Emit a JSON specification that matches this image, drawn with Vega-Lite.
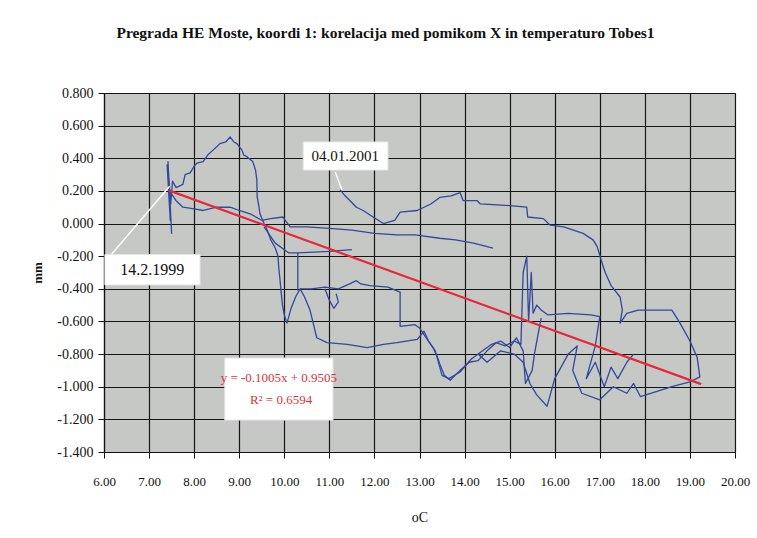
{
  "$schema": "https://vega.github.io/schema/vega-lite/v6.json",
  "autosize": "none",
  "width": 631,
  "height": 359,
  "padding": {"left": 104, "top": 93, "right": 22, "bottom": 86},
  "background": "#ffffff",
  "title": {
    "text": "Pregrada HE Moste, koordi 1: korelacija med pomikom X in temperaturo Tobes1",
    "font": "Liberation Serif",
    "fontSize": 15.5,
    "fontWeight": "bold",
    "color": "#111111",
    "anchor": "middle",
    "dx": -34,
    "offset": 45
  },
  "config": {
    "view": {"fill": "#c6c8c6", "stroke": "#222222", "strokeWidth": 1},
    "axis": {
      "labelFont": "Liberation Serif",
      "titleFont": "Liberation Serif",
      "labelColor": "#111111",
      "titleColor": "#111111",
      "domainColor": "#111111",
      "tickColor": "#111111",
      "gridColor": "#151515",
      "gridWidth": 1.2,
      "gridOpacity": 1,
      "domainWidth": 1.2,
      "labelOverlap": false,
      "labelFlush": false
    }
  },
  "datasets": {
    "path": [
      {"s": "A", "i": 1, "x": 7.45, "y": 0.20},
      {"s": "A", "i": 2, "x": 7.40, "y": 0.36},
      {"s": "A", "i": 3, "x": 7.47, "y": 0.02},
      {"s": "A", "i": 4, "x": 7.42, "y": 0.38},
      {"s": "A", "i": 5, "x": 7.50, "y": -0.06},
      {"s": "A", "i": 6, "x": 7.44, "y": 0.28},
      {"s": "A", "i": 7, "x": 7.48, "y": 0.12},
      {"s": "A", "i": 8, "x": 7.52, "y": 0.26},
      {"s": "A", "i": 9, "x": 7.60, "y": 0.22},
      {"s": "A", "i": 10, "x": 7.75, "y": 0.24},
      {"s": "A", "i": 11, "x": 7.80, "y": 0.30},
      {"s": "A", "i": 12, "x": 7.91, "y": 0.31},
      {"s": "A", "i": 13, "x": 8.00, "y": 0.35},
      {"s": "A", "i": 14, "x": 8.06, "y": 0.37},
      {"s": "A", "i": 15, "x": 8.20, "y": 0.38},
      {"s": "A", "i": 16, "x": 8.30, "y": 0.42},
      {"s": "A", "i": 17, "x": 8.42, "y": 0.45},
      {"s": "A", "i": 18, "x": 8.50, "y": 0.47},
      {"s": "A", "i": 19, "x": 8.57, "y": 0.49},
      {"s": "A", "i": 20, "x": 8.70, "y": 0.50},
      {"s": "A", "i": 21, "x": 8.80, "y": 0.53},
      {"s": "A", "i": 22, "x": 8.88, "y": 0.50},
      {"s": "A", "i": 23, "x": 8.95, "y": 0.49},
      {"s": "A", "i": 24, "x": 9.06, "y": 0.45},
      {"s": "A", "i": 25, "x": 9.10, "y": 0.42},
      {"s": "A", "i": 26, "x": 9.17, "y": 0.41},
      {"s": "A", "i": 27, "x": 9.30, "y": 0.38},
      {"s": "A", "i": 28, "x": 9.36, "y": 0.33},
      {"s": "A", "i": 29, "x": 9.39, "y": 0.27},
      {"s": "A", "i": 30, "x": 9.40, "y": 0.16},
      {"s": "A", "i": 31, "x": 9.44, "y": 0.10},
      {"s": "A", "i": 32, "x": 9.46, "y": 0.06},
      {"s": "A", "i": 33, "x": 9.55, "y": 0.00},
      {"s": "A", "i": 34, "x": 9.62, "y": -0.04},
      {"s": "A", "i": 35, "x": 9.70, "y": -0.10},
      {"s": "A", "i": 36, "x": 9.80, "y": -0.15},
      {"s": "A", "i": 37, "x": 9.86, "y": -0.20},
      {"s": "A", "i": 38, "x": 9.88, "y": -0.28},
      {"s": "A", "i": 39, "x": 9.90, "y": -0.33},
      {"s": "A", "i": 40, "x": 9.93, "y": -0.42},
      {"s": "A", "i": 41, "x": 9.96, "y": -0.50},
      {"s": "A", "i": 42, "x": 10.00, "y": -0.56},
      {"s": "A", "i": 43, "x": 10.06, "y": -0.61},
      {"s": "A", "i": 44, "x": 10.15, "y": -0.52},
      {"s": "A", "i": 45, "x": 10.25, "y": -0.45},
      {"s": "A", "i": 46, "x": 10.35, "y": -0.40},
      {"s": "A", "i": 47, "x": 10.60, "y": -0.40},
      {"s": "A", "i": 48, "x": 10.90, "y": -0.39},
      {"s": "A", "i": 49, "x": 11.20, "y": -0.40},
      {"s": "A", "i": 50, "x": 11.45, "y": -0.37},
      {"s": "A", "i": 51, "x": 11.60, "y": -0.35},
      {"s": "A", "i": 52, "x": 11.70, "y": -0.37},
      {"s": "A", "i": 53, "x": 11.90, "y": -0.38},
      {"s": "A", "i": 54, "x": 12.30, "y": -0.39},
      {"s": "A", "i": 55, "x": 12.57, "y": -0.42},
      {"s": "A", "i": 56, "x": 12.57, "y": -0.63},
      {"s": "A", "i": 57, "x": 12.90, "y": -0.62},
      {"s": "A", "i": 58, "x": 13.00, "y": -0.64},
      {"s": "A", "i": 59, "x": 13.10, "y": -0.68},
      {"s": "A", "i": 60, "x": 13.15, "y": -0.70},
      {"s": "A", "i": 61, "x": 13.30, "y": -0.76},
      {"s": "A", "i": 62, "x": 13.40, "y": -0.82},
      {"s": "A", "i": 63, "x": 13.45, "y": -0.86},
      {"s": "A", "i": 64, "x": 13.55, "y": -0.93},
      {"s": "A", "i": 65, "x": 13.68, "y": -0.96},
      {"s": "A", "i": 66, "x": 13.90, "y": -0.90},
      {"s": "A", "i": 67, "x": 14.10, "y": -0.85},
      {"s": "A", "i": 68, "x": 14.30, "y": -0.84},
      {"s": "A", "i": 69, "x": 14.50, "y": -0.78},
      {"s": "A", "i": 70, "x": 14.70, "y": -0.73},
      {"s": "A", "i": 71, "x": 14.90, "y": -0.75},
      {"s": "A", "i": 72, "x": 15.10, "y": -0.72},
      {"s": "A", "i": 73, "x": 15.25, "y": -0.74},
      {"s": "A", "i": 74, "x": 15.30, "y": -0.30},
      {"s": "A", "i": 75, "x": 15.38, "y": -0.20},
      {"s": "A", "i": 76, "x": 15.42, "y": -0.60},
      {"s": "A", "i": 77, "x": 15.48, "y": -0.30},
      {"s": "A", "i": 78, "x": 15.52, "y": -0.55},
      {"s": "A", "i": 79, "x": 15.60, "y": -0.50},
      {"s": "A", "i": 80, "x": 15.70, "y": -0.53},
      {"s": "A", "i": 81, "x": 15.85, "y": -0.56},
      {"s": "A", "i": 82, "x": 16.30, "y": -0.55},
      {"s": "A", "i": 83, "x": 16.80, "y": -0.56},
      {"s": "A", "i": 84, "x": 17.00, "y": -0.57},
      {"s": "A", "i": 85, "x": 16.90, "y": -0.75},
      {"s": "A", "i": 86, "x": 16.70, "y": -0.95},
      {"s": "A", "i": 87, "x": 16.90, "y": -0.85},
      {"s": "A", "i": 88, "x": 17.10, "y": -1.00},
      {"s": "A", "i": 89, "x": 17.25, "y": -0.88},
      {"s": "A", "i": 90, "x": 17.40, "y": -0.95},
      {"s": "A", "i": 91, "x": 17.60, "y": -0.85},
      {"s": "A", "i": 92, "x": 17.75, "y": -0.80},
      {"s": "B", "i": 1, "x": 7.45, "y": 0.20},
      {"s": "B", "i": 2, "x": 7.60, "y": 0.14},
      {"s": "B", "i": 3, "x": 7.75, "y": 0.10},
      {"s": "B", "i": 4, "x": 8.00, "y": 0.09},
      {"s": "B", "i": 5, "x": 8.20, "y": 0.08},
      {"s": "B", "i": 6, "x": 8.50, "y": 0.10},
      {"s": "B", "i": 7, "x": 8.80, "y": 0.10},
      {"s": "B", "i": 8, "x": 9.00, "y": 0.08},
      {"s": "B", "i": 9, "x": 9.24, "y": 0.06},
      {"s": "B", "i": 10, "x": 9.50, "y": 0.02},
      {"s": "B", "i": 11, "x": 9.70, "y": 0.03},
      {"s": "B", "i": 12, "x": 9.97, "y": 0.04},
      {"s": "B", "i": 13, "x": 10.13, "y": -0.02},
      {"s": "B", "i": 14, "x": 10.50, "y": -0.02},
      {"s": "B", "i": 15, "x": 11.00, "y": -0.03},
      {"s": "B", "i": 16, "x": 11.50, "y": -0.04},
      {"s": "B", "i": 17, "x": 12.00, "y": -0.06},
      {"s": "B", "i": 18, "x": 12.50, "y": -0.07},
      {"s": "B", "i": 19, "x": 12.90, "y": -0.07},
      {"s": "B", "i": 20, "x": 13.45, "y": -0.09},
      {"s": "B", "i": 21, "x": 13.80, "y": -0.10},
      {"s": "B", "i": 22, "x": 14.20, "y": -0.12},
      {"s": "B", "i": 23, "x": 14.63, "y": -0.15},
      {"s": "C", "i": 1, "x": 11.24, "y": 0.206},
      {"s": "C", "i": 2, "x": 11.35, "y": 0.17},
      {"s": "C", "i": 3, "x": 11.46, "y": 0.14},
      {"s": "C", "i": 4, "x": 11.60, "y": 0.10},
      {"s": "C", "i": 5, "x": 11.75, "y": 0.08},
      {"s": "C", "i": 6, "x": 11.97, "y": 0.04},
      {"s": "C", "i": 7, "x": 12.20, "y": 0.00},
      {"s": "C", "i": 8, "x": 12.45, "y": 0.02},
      {"s": "C", "i": 9, "x": 12.57, "y": 0.07},
      {"s": "C", "i": 10, "x": 12.95, "y": 0.08},
      {"s": "C", "i": 11, "x": 13.25, "y": 0.12},
      {"s": "C", "i": 12, "x": 13.45, "y": 0.16},
      {"s": "C", "i": 13, "x": 13.70, "y": 0.17},
      {"s": "C", "i": 14, "x": 13.90, "y": 0.19},
      {"s": "C", "i": 15, "x": 13.97, "y": 0.14},
      {"s": "C", "i": 16, "x": 14.28, "y": 0.14},
      {"s": "C", "i": 17, "x": 14.35, "y": 0.12},
      {"s": "C", "i": 18, "x": 15.00, "y": 0.11},
      {"s": "C", "i": 19, "x": 15.38, "y": 0.10},
      {"s": "C", "i": 20, "x": 15.40, "y": 0.04},
      {"s": "C", "i": 21, "x": 15.75, "y": 0.03},
      {"s": "C", "i": 22, "x": 15.90, "y": -0.01},
      {"s": "C", "i": 23, "x": 16.20, "y": -0.02},
      {"s": "C", "i": 24, "x": 16.63, "y": -0.06},
      {"s": "C", "i": 25, "x": 16.85, "y": -0.10},
      {"s": "C", "i": 26, "x": 16.94, "y": -0.14},
      {"s": "C", "i": 27, "x": 17.05, "y": -0.24},
      {"s": "C", "i": 28, "x": 17.12, "y": -0.30},
      {"s": "C", "i": 29, "x": 17.25, "y": -0.38},
      {"s": "C", "i": 30, "x": 17.45, "y": -0.45},
      {"s": "C", "i": 31, "x": 17.50, "y": -0.53},
      {"s": "C", "i": 32, "x": 17.45, "y": -0.61},
      {"s": "C", "i": 33, "x": 17.60, "y": -0.55},
      {"s": "C", "i": 34, "x": 17.85, "y": -0.53},
      {"s": "C", "i": 35, "x": 18.60, "y": -0.53},
      {"s": "C", "i": 36, "x": 18.78, "y": -0.61},
      {"s": "C", "i": 37, "x": 19.00, "y": -0.72},
      {"s": "C", "i": 38, "x": 19.16, "y": -0.82},
      {"s": "C", "i": 39, "x": 19.22, "y": -0.94},
      {"s": "C", "i": 40, "x": 19.00, "y": -0.97},
      {"s": "C", "i": 41, "x": 18.60, "y": -1.00},
      {"s": "C", "i": 42, "x": 17.90, "y": -1.06},
      {"s": "C", "i": 43, "x": 17.75, "y": -0.98},
      {"s": "C", "i": 44, "x": 17.60, "y": -1.04},
      {"s": "C", "i": 45, "x": 17.30, "y": -1.00},
      {"s": "C", "i": 46, "x": 17.00, "y": -1.08},
      {"s": "C", "i": 47, "x": 16.60, "y": -1.04},
      {"s": "C", "i": 48, "x": 16.40, "y": -0.90},
      {"s": "C", "i": 49, "x": 16.50, "y": -0.75},
      {"s": "C", "i": 50, "x": 16.30, "y": -0.80},
      {"s": "C", "i": 51, "x": 16.00, "y": -0.95},
      {"s": "C", "i": 52, "x": 15.83, "y": -1.12},
      {"s": "C", "i": 53, "x": 15.60, "y": -1.05},
      {"s": "C", "i": 54, "x": 15.45, "y": -0.98},
      {"s": "C", "i": 55, "x": 15.30, "y": -0.85},
      {"s": "C", "i": 56, "x": 15.10, "y": -0.80},
      {"s": "C", "i": 57, "x": 14.80, "y": -0.78},
      {"s": "C", "i": 58, "x": 14.50, "y": -0.85},
      {"s": "C", "i": 59, "x": 14.30, "y": -0.80},
      {"s": "E", "i": 1, "x": 10.35, "y": -0.40},
      {"s": "E", "i": 2, "x": 10.45, "y": -0.45},
      {"s": "E", "i": 3, "x": 10.57, "y": -0.53},
      {"s": "E", "i": 4, "x": 10.65, "y": -0.62},
      {"s": "E", "i": 5, "x": 10.72, "y": -0.70},
      {"s": "E", "i": 6, "x": 10.95, "y": -0.73},
      {"s": "E", "i": 7, "x": 11.40, "y": -0.74},
      {"s": "E", "i": 8, "x": 11.84, "y": -0.76},
      {"s": "E", "i": 9, "x": 12.20, "y": -0.74},
      {"s": "E", "i": 10, "x": 12.50, "y": -0.73},
      {"s": "E", "i": 11, "x": 12.95, "y": -0.71},
      {"s": "E", "i": 12, "x": 13.10, "y": -0.66},
      {"s": "E", "i": 13, "x": 13.20, "y": -0.72},
      {"s": "E", "i": 14, "x": 13.35, "y": -0.78},
      {"s": "E", "i": 15, "x": 13.50, "y": -0.93},
      {"s": "E", "i": 16, "x": 13.65, "y": -0.95},
      {"s": "E", "i": 17, "x": 13.90, "y": -0.91},
      {"s": "E", "i": 18, "x": 14.15, "y": -0.83},
      {"s": "E", "i": 19, "x": 14.40, "y": -0.78},
      {"s": "E", "i": 20, "x": 14.60, "y": -0.74},
      {"s": "E", "i": 21, "x": 14.80, "y": -0.72},
      {"s": "E", "i": 22, "x": 15.00, "y": -0.76},
      {"s": "E", "i": 23, "x": 15.15, "y": -0.70},
      {"s": "E", "i": 24, "x": 15.30, "y": -0.78},
      {"s": "E", "i": 25, "x": 15.35, "y": -0.98},
      {"s": "E", "i": 26, "x": 15.50, "y": -0.90},
      {"s": "E", "i": 27, "x": 15.55, "y": -0.80},
      {"s": "E", "i": 28, "x": 15.65, "y": -0.65},
      {"s": "E", "i": 29, "x": 15.70, "y": -0.58},
      {"s": "G", "i": 1, "x": 9.55, "y": -0.02},
      {"s": "G", "i": 2, "x": 9.80, "y": -0.12},
      {"s": "G", "i": 3, "x": 10.10, "y": -0.18},
      {"s": "G", "i": 4, "x": 10.30, "y": -0.18},
      {"s": "G", "i": 5, "x": 10.30, "y": -0.41},
      {"s": "H", "i": 1, "x": 10.30, "y": -0.18},
      {"s": "H", "i": 2, "x": 11.00, "y": -0.17},
      {"s": "H", "i": 3, "x": 11.50, "y": -0.16},
      {"s": "K", "i": 1, "x": 10.90, "y": -0.40},
      {"s": "K", "i": 2, "x": 11.00, "y": -0.47},
      {"s": "K", "i": 3, "x": 11.10, "y": -0.52},
      {"s": "K", "i": 4, "x": 11.20, "y": -0.48},
      {"s": "K", "i": 5, "x": 11.15, "y": -0.43}
    ],
    "trend": [
      {"x": 7.45, "y": 0.2018},
      {"x": 19.25, "y": -0.9841}
    ],
    "arrows": [
      {"x": 6.13, "y": -0.20, "x2": 7.46, "y2": 0.23},
      {"x": 11.13, "y": 0.316, "x2": 11.28, "y2": 0.206}
    ],
    "boxes": [
      {"x": 6.02, "x2": 8.13, "y": -0.19, "y2": -0.376},
      {"x": 10.42, "x2": 12.30, "y": 0.50, "y2": 0.328},
      {"x": 8.68, "x2": 11.08, "y": -0.824, "y2": -1.204}
    ],
    "labels": [
      {"x": 7.07, "y": -0.285, "t": "14.2.1999", "c": "#111111", "f": 16},
      {"x": 11.35, "y": 0.414, "t": "04.01.2001", "c": "#111111", "f": 15},
      {"x": 9.88, "y": -0.946, "t": "y = -0.1005x + 0.9505", "c": "#e0303a", "f": 13},
      {"x": 9.93, "y": -1.08, "t": "R² = 0.6594", "c": "#e0303a", "f": 13}
    ]
  },
  "layer": [
    {
      "data": {"name": "path"},
      "mark": {"type": "line", "color": "#34479a", "strokeWidth": 1.3, "strokeJoin": "round"},
      "encoding": {
        "x": {
          "field": "x", "type": "quantitative",
          "scale": {"domain": [6, 20], "nice": false, "zero": false},
          "axis": {
            "values": [6, 7, 8, 9, 10, 11, 12, 13, 14, 15, 16, 17, 18, 19, 20],
            "tickCount": 15,
            "format": ".2f",
            "labelFontSize": 13,
            "labelPadding": 17,
            "tickSize": 6,
            "title": "oC",
            "titleFontSize": 14,
            "titleFontWeight": "normal",
            "titlePadding": 22,
            "grid": true
          }
        },
        "y": {
          "field": "y", "type": "quantitative",
          "scale": {"domain": [-1.4, 0.8], "nice": false, "zero": false},
          "axis": {
            "values": [-1.4, -1.2, -1.0, -0.8, -0.6, -0.4, -0.2, 0, 0.2, 0.4, 0.6, 0.8],
            "tickCount": 12,
            "labelExpr": "replace(format(datum.value, '.3f'), '\u2212', '-')",
            "labelFontSize": 14,
            "labelPadding": 5,
            "tickSize": 6,
            "title": "mm",
            "titleFontSize": 13,
            "titleFontWeight": "bold",
            "titlePadding": 12,
            "grid": true
          }
        },
        "detail": {"field": "s"},
        "order": {"field": "i", "type": "quantitative"}
      }
    },
    {
      "data": {"name": "trend"},
      "mark": {"type": "line", "color": "#e8283a", "strokeWidth": 2.2},
      "encoding": {
        "x": {"field": "x", "type": "quantitative"},
        "y": {"field": "y", "type": "quantitative"}
      }
    },
    {
      "data": {"name": "arrows"},
      "mark": {"type": "rule", "color": "#ffffff", "strokeWidth": 1.5},
      "encoding": {
        "x": {"field": "x", "type": "quantitative"},
        "y": {"field": "y", "type": "quantitative"},
        "x2": {"field": "x2"},
        "y2": {"field": "y2"}
      }
    },
    {
      "data": {"name": "boxes"},
      "mark": {"type": "rect", "fill": "#ffffff", "stroke": "#e6e6e6", "strokeWidth": 1},
      "encoding": {
        "x": {"field": "x", "type": "quantitative"},
        "x2": {"field": "x2"},
        "y": {"field": "y", "type": "quantitative"},
        "y2": {"field": "y2"}
      }
    },
    {
      "data": {"name": "labels"},
      "mark": {"type": "text", "font": "Liberation Serif", "align": "center", "baseline": "middle"},
      "encoding": {
        "x": {"field": "x", "type": "quantitative"},
        "y": {"field": "y", "type": "quantitative"},
        "text": {"field": "t"},
        "color": {"field": "c", "type": "nominal", "scale": null},
        "size": {"field": "f", "type": "quantitative", "scale": null}
      }
    }
  ]
}
